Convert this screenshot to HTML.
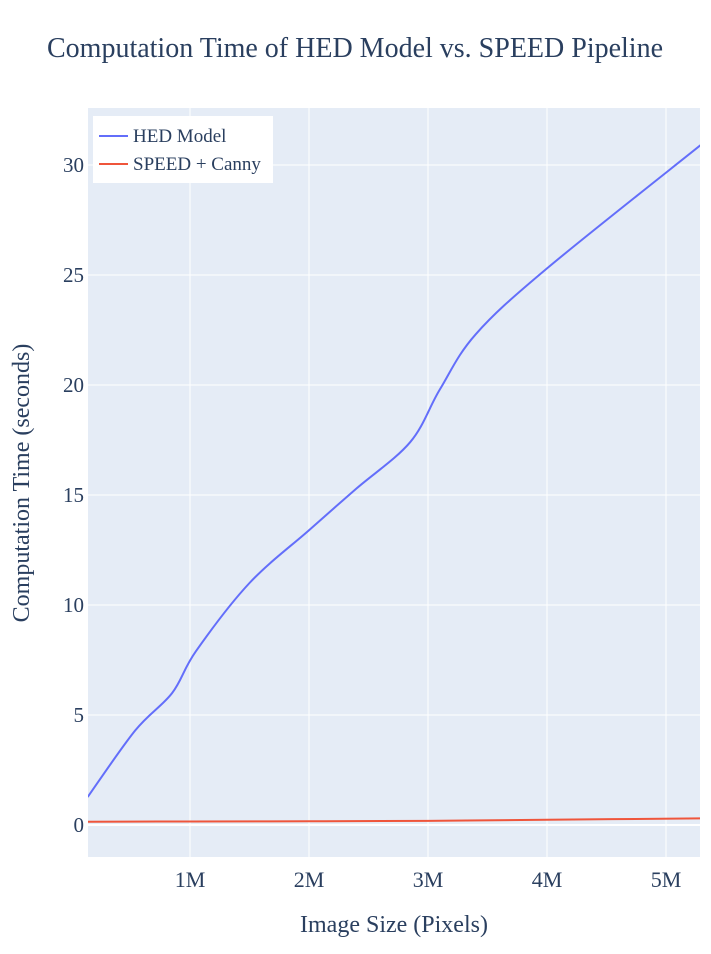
<!DOCTYPE html>
<html><head><meta charset="utf-8"><style>
body{margin:0;background:#fff;font-family:"Liberation Serif",serif;}
svg text{font-family:"Liberation Serif",serif;fill:#2a3f5f;}
</style></head><body>
<svg id="chart" width="711" height="949">
<text x="355" y="57" font-size="28" text-anchor="middle">Computation Time of HED Model vs. SPEED Pipeline</text>
<rect x="88" y="108" width="612" height="749" fill="#e5ecf6"/>
<g id="grid"></g>
<g id="series"></g>
<g id="ticks"></g>
<text x="394" y="932" font-size="24" text-anchor="middle">Image Size (Pixels)</text>
<text transform="translate(29,483) rotate(-90)" font-size="24" text-anchor="middle">Computation Time (seconds)</text>
<g>
<rect x="93" y="116" width="180" height="67" fill="#fff"/>
<line x1="99" y1="136" x2="128" y2="136" stroke="#636efa" stroke-width="2"/>
<text x="133" y="142" font-size="19">HED Model</text>
<line x1="99" y1="164" x2="128" y2="164" stroke="#ef553b" stroke-width="2"/>
<text x="133" y="170" font-size="19">SPEED + Canny</text>
</g>
</svg>
<script>
const xValuesHED=[0.14,0.54,0.85,1.05,1.5,2.0,2.4,2.85,3.1,3.4,4.0,5.29];
const hedValues=[1.27,4.3,6.0,7.9,11.0,13.4,15.3,17.4,19.8,22.3,25.3,30.9];
const xValuesSpeed=[0.14,1.0,2.0,3.0,4.0,5.29];
const speedValues=[0.15,0.16,0.17,0.19,0.24,0.3];
const yTicks=[0,5,10,15,20,25,30];
const xTicks=[1,2,3,4,5];
const xTickLabels=["1M","2M","3M","4M","5M"];
const X=v=>190+(v-1)*119;
const Y=v=>825-v*22;
const ns="http://www.w3.org/2000/svg";
const grid=document.getElementById('grid'),ticks=document.getElementById('ticks'),series=document.getElementById('series');
function mk(tag,attrs,parent){const e=document.createElementNS(ns,tag);for(const k in attrs)e.setAttribute(k,attrs[k]);parent.appendChild(e);return e;}
yTicks.forEach(t=>{
 const l=mk('line',{x1:88,x2:700,y1:Y(t),y2:Y(t),stroke:'#fff','stroke-width':t===0?2:1},grid);
 
 
 const tx=mk('text',{x:84,y:Y(t)+7,'font-size':21,'text-anchor':'end'},ticks);tx.textContent=t;
 
 
});
xTicks.forEach((t,i)=>{
 const l=mk('line',{x1:X(t),x2:X(t),y1:108,y2:857,stroke:'#fff','stroke-width':1},grid);
 
 
 const tx=mk('text',{x:X(t),y:887,'font-size':22,'text-anchor':'middle'},ticks);tx.textContent=xTickLabels[i];
 
 
});
function spline(xs,ys){
 const p=xs.map((x,i)=>[X(x),Y(ys[i])]);let d=`M${p[0][0]},${p[0][1]}`;
 for(let i=0;i<p.length-1;i++){const p0=p[i-1]||p[i],p1=p[i],p2=p[i+1],p3=p[i+2]||p2;const k=0.5/3;
 d+=`C${p1[0]+(p2[0]-p0[0])*k},${p1[1]+(p2[1]-p0[1])*k} ${p2[0]-(p3[0]-p1[0])*k},${p2[1]-(p3[1]-p1[1])*k} ${p2[0]},${p2[1]}`;}
 return d;}
const clip=mk('clipPath',{id:'c'},series);mk('rect',{x:88,y:108,width:612,height:749},clip);
const h=mk('path',{d:spline(xValuesHED,hedValues),fill:'none',stroke:'#636efa','stroke-width':2,'clip-path':'url(#c)'},series);


const s=mk('path',{d:spline(xValuesSpeed,speedValues),fill:'none',stroke:'#ef553b','stroke-width':2,'clip-path':'url(#c)'},series);


</script>
</body></html>
